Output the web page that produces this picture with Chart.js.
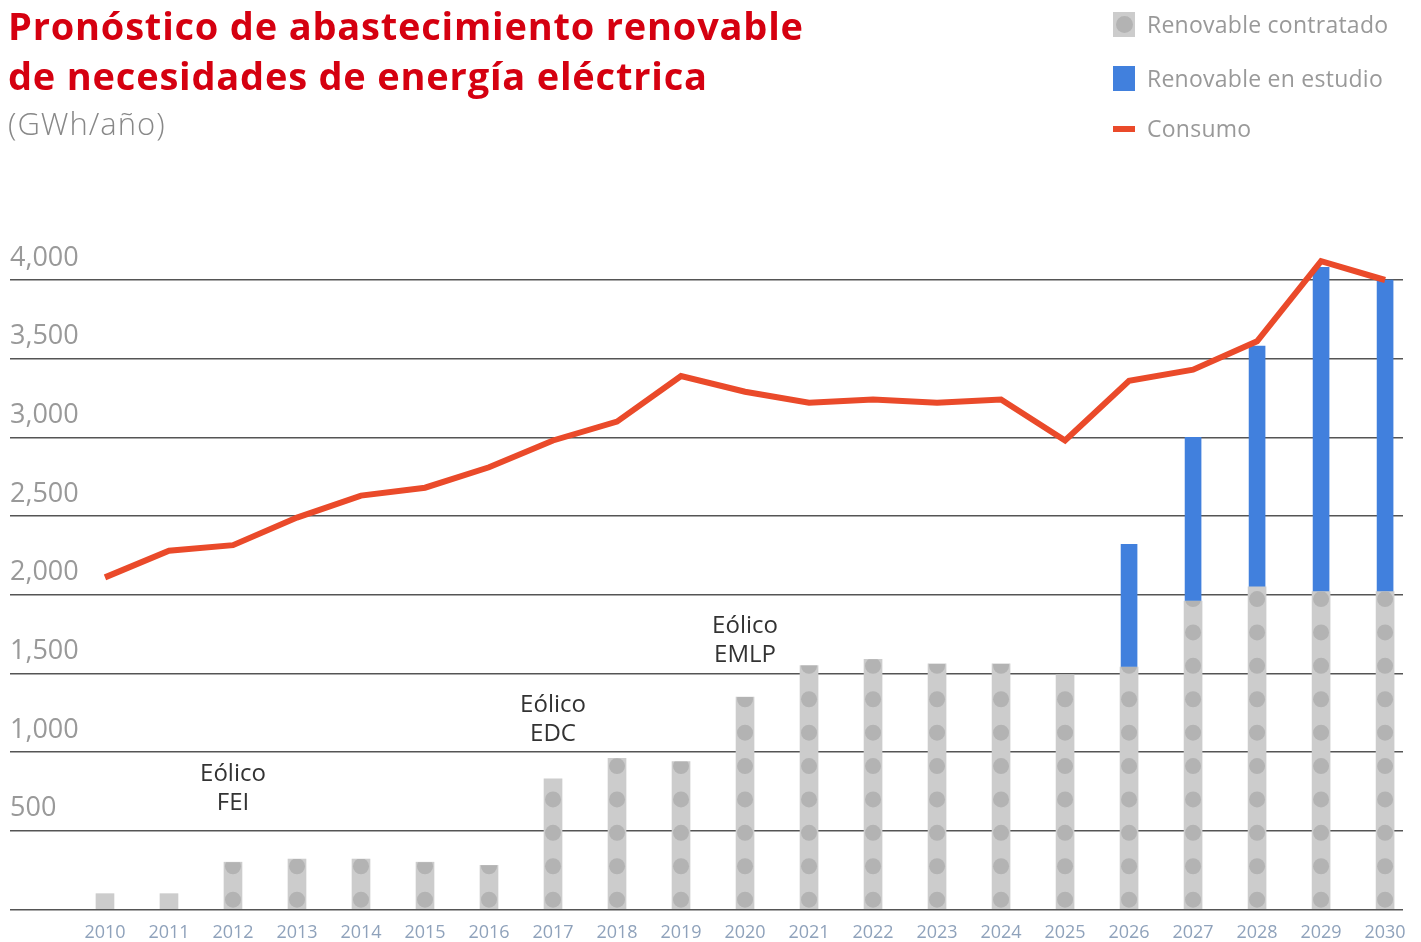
<!DOCTYPE html>
<html>
<head>
<meta charset="utf-8">
<script src="https://cdn.jsdelivr.net/npm/chart.js@4.4.0/dist/chart.umd.min.js"></script>
<style>
  body { margin: 0; background: #fff; font-family: "Open Sans", sans-serif; }
  #wrap { position: relative; width: 1421px; height: 942px; overflow: hidden; }
  #chart { position: absolute; left: 0; top: 0; }
  .title { position: absolute; left: 8px; top: 0px; color: #d50010; font-weight: 700; font-size: 38px; line-height: 50px; letter-spacing: 0.8px; }
  .sub { position: absolute; left: 8px; top: 102px; color: #888; font-size: 31px; font-weight: 300; letter-spacing: 1px; }
  .legend { position: absolute; left: 1113px; top: 0; }
  .item { position: absolute; left: 0; white-space: nowrap; color: #999; font-size: 23px; letter-spacing: 0.25px; }
  .item span.t { position: absolute; left: 34px; top: -17px; }
  .sw { position: absolute; left: 0; }
</style>
</head>
<body>
<div id="wrap">
  <canvas id="chart" width="1421" height="942"></canvas>
  <div class="title">Pronóstico de abastecimiento renovable<br>de necesidades de energía eléctrica</div>
  <div class="sub">(GWh/año)</div>
  <div class="legend">
    <div class="item" style="top:25px">
      <div class="sw" style="top:-13px;width:22px;height:25px;background:#cccccc"><div style="position:absolute;left:3px;top:4px;width:17px;height:17px;border-radius:50%;background:#b3b3b3"></div></div>
      <span class="t">Renovable contratado</span>
    </div>
    <div class="item" style="top:79px">
      <div class="sw" style="top:-13px;width:22px;height:25px;background:#4180dd"></div>
      <span class="t">Renovable en estudio</span>
    </div>
    <div class="item" style="top:129px">
      <div class="sw" style="top:-3px;width:22px;height:6px;background:#ea4a2a"></div>
      <span class="t">Consumo</span>
    </div>
  </div>
</div>
<script>
// data
const years = [2010, 2011, 2012, 2013, 2014, 2015, 2016, 2017, 2018, 2019, 2020,
               2021, 2022, 2023, 2024, 2025, 2026, 2027, 2028, 2029, 2030];
const contratado = [100, 100, 300, 320, 320, 300, 280, 830, 960, 940, 1350,
                    1550, 1590, 1560, 1560, 1490, 1540, 1960, 2050, 2020, 2020];
const enEstudio = [null, null, null, null, null, null, null, null, null, null, null,
                   null, null, null, null, null, 780, 1040, 1530, 2060, 1980];
const consumo = [2110, 2280, 2315, 2490, 2630, 2680, 2810, 2980, 3100, 3390, 3290,
                 3220, 3240, 3220, 3240, 2980, 3360, 3430, 3610, 4120, 4000];
const yTicks = [0, 500, 1000, 1500, 2000, 2500, 3000, 3500, 4000];

// bar annotations: year, text lines, level (GWh) of the first line
const annYears = [2012, 2017, 2020];
const annText = [['Eólico', 'FEI'], ['Eólico', 'EDC'], ['Eólico', 'EMLP']];
const annLevel = [860, 1300, 1800];

const pts = arr => years.map((y, i) => ({ x: y, y: arr[i] }));

// dotted fill for the contracted bars
const dotsPlugin = {
  id: 'dots',
  afterDatasetDraw(chart, args) {
    if (args.index !== 0) return;
    const ctx = chart.ctx;
    args.meta.data.forEach(bar => {
      const p = bar.getProps(['x', 'y', 'base', 'width'], true);
      if (p.base - p.y < 20) return;
      ctx.save();
      ctx.beginPath();
      ctx.rect(p.x - p.width / 2, p.y, p.width, p.base - p.y);
      ctx.clip();
      ctx.fillStyle = '#b3b3b3';
      for (let cy = p.base - 9; cy > p.y - 10; cy -= 33.4) {
        ctx.beginPath();
        ctx.arc(p.x, cy, 8, 0, Math.PI * 2);
        ctx.fill();
      }
      ctx.restore();
    });
  }
};

const notesPlugin = {
  id: 'notes',
  afterDatasetsDraw(chart) {
    const ctx = chart.ctx;
    const xs = chart.scales.x, ys = chart.scales.y;
    ctx.save();
    ctx.fillStyle = '#333';
    ctx.font = '24px "Open Sans", sans-serif';
    ctx.textAlign = 'center';
    ctx.textBaseline = 'middle';
    annYears.forEach((yr, i) => {
      const x = xs.getPixelForValue(yr);
      const y = ys.getPixelForValue(annLevel[i]);
      annText[i].forEach((t, j) => ctx.fillText(t, x, y + j * 29));
    });
    ctx.restore();
  }
};

new Chart(document.getElementById('chart'), {
  type: 'bar',
  data: {
    datasets: [
      {
        label: 'Renovable contratado',
        data: pts(contratado),
        backgroundColor: '#cccccc',
        barThickness: 18,
        order: 2,
        clip: false
      },
      {
        label: 'Renovable en estudio',
        data: pts(enEstudio),
        backgroundColor: '#4180dd',
        barThickness: 16,
        order: 3,
        clip: false
      },
      {
        type: 'line',
        label: 'Consumo',
        data: pts(consumo),
        borderColor: '#ea4a2a',
        borderWidth: 6,
        pointRadius: 0,
        tension: 0,
        order: 1,
        clip: false
      }
    ]
  },
  options: {
    responsive: false,
    animation: false,
    layout: { padding: { left: 10, right: 18, top: 280, bottom: -15 } },
    plugins: { legend: { display: false }, tooltip: { enabled: false } },
    scales: {
      x: {
        type: 'linear',
        stacked: true,
        offset: false,
        min: 2008.516,
        max: 2030.28,
        afterBuildTicks: s => { s.ticks = years.map(v => ({ value: v })); },
        grid: { display: false, drawTicks: false, offset: false },
        border: { display: false },
        ticks: {
          color: '#8fa2bb',
          font: { family: 'Open Sans', size: 18 },
          padding: 13,
          maxRotation: 0,
          autoSkip: false,
          callback: v => String(v)
        }
      },
      y: {
        stacked: true,
        min: 0,
        max: 4000,
        afterBuildTicks: s => { s.ticks = yTicks.map(v => ({ value: v })); },
        grid: { color: '#555', lineWidth: 1.5, drawTicks: false },
        border: { display: false },
        ticks: {
          mirror: true,
          padding: 0,
          labelOffset: -22,
          color: '#999',
          font: { family: 'Open Sans', size: 27 },
          callback: v => v === 0 ? '' : v.toLocaleString('en-US')
        }
      }
    }
  },
  plugins: [dotsPlugin, notesPlugin]
});
</script>
</body>
</html>
